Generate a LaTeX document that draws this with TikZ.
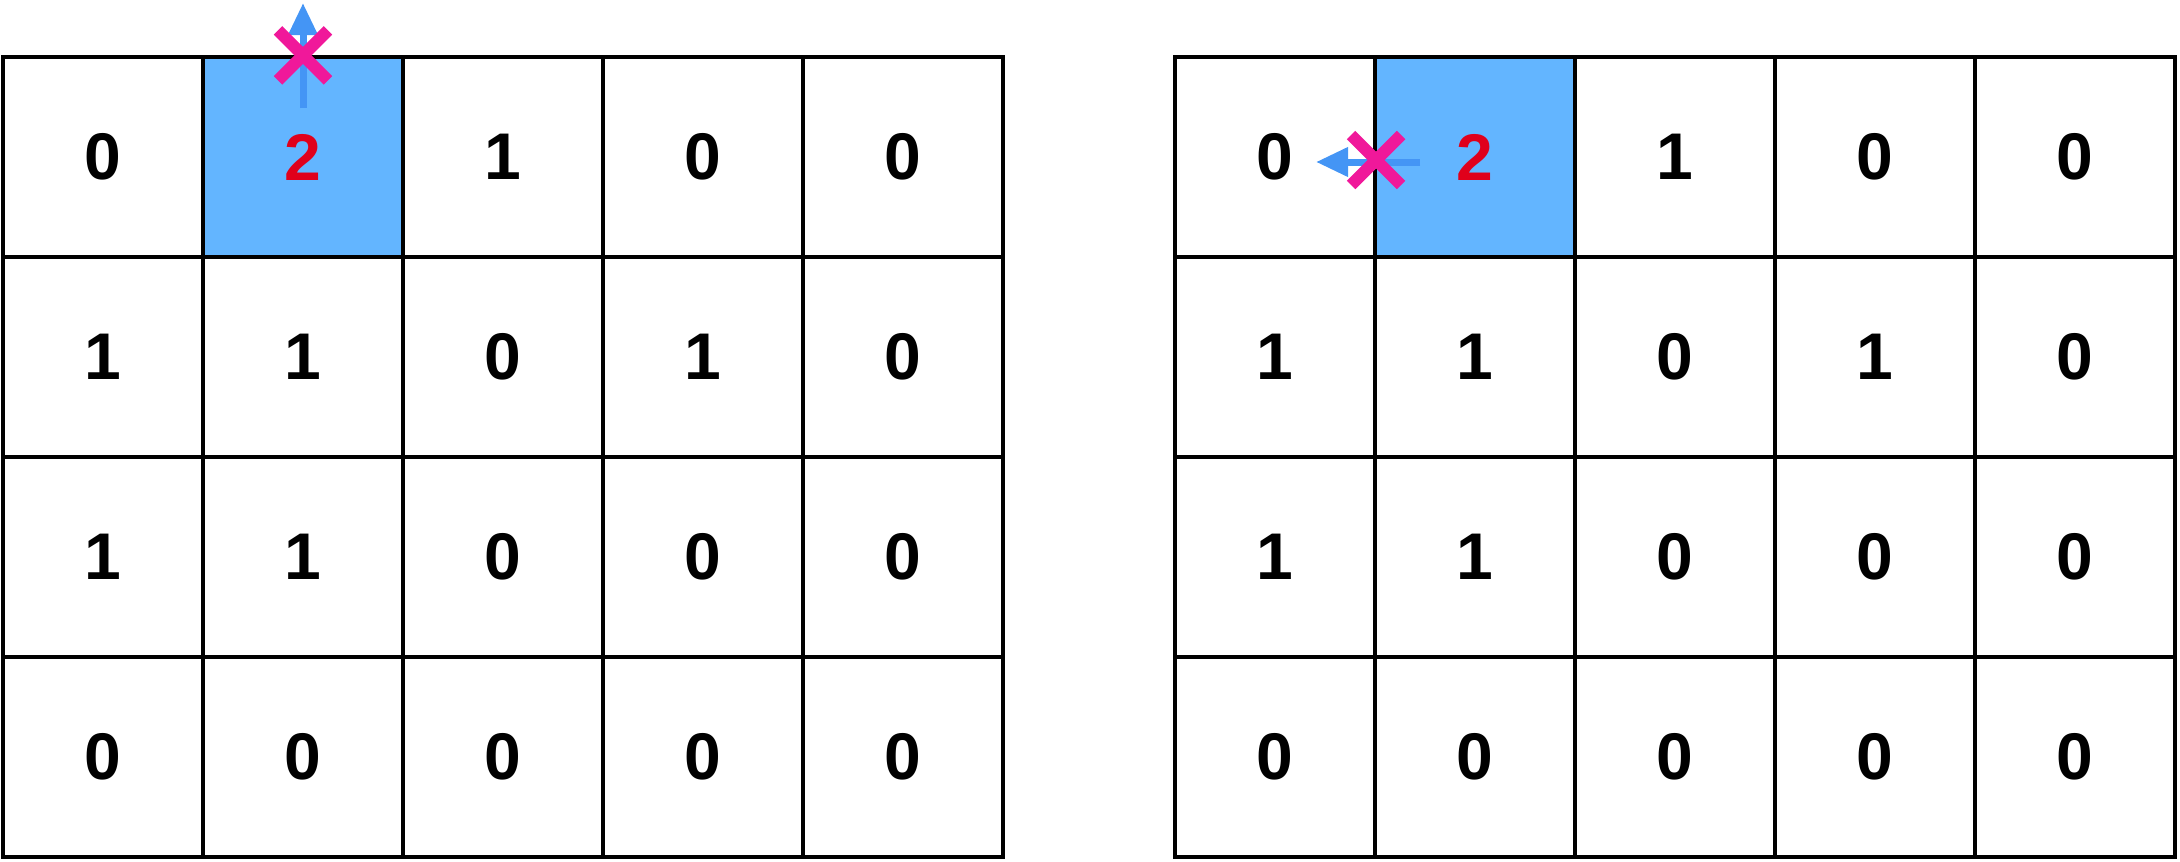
\documentclass[tikz,border=0pt]{standalone}
\usepackage{fontspec}
\setmainfont{Liberation Sans}
\usetikzlibrary{arrows.meta}
\definecolor{cellblue}{HTML}{63B5FF}
\definecolor{numred}{HTML}{E0001B}
\definecolor{arrblue}{HTML}{4495F5}
\definecolor{xpink}{HTML}{F0189A}
\tikzset{
  cell/.style={draw=black, line width=1.7pt, minimum width=100pt, minimum height=100pt,
    inner sep=0pt, font=\fontsize{33}{33}\selectfont\bfseries},
  hl/.style={fill=cellblue, text=numred},
  moveArrow/.style={draw=arrblue, line width=3.5pt, -{Triangle[length=16pt,width=14pt]}},
  crossMark/.style={draw=xpink, line width=6pt}
}
\begin{document}
\begin{tikzpicture}[x=0.5pt,y=-0.5pt]
\useasboundingbox (0,0) rectangle (2180,862);
\def\vals{{{0,2,1,0,0},{1,1,0,1,0},{1,1,0,0,0},{0,0,0,0,0}}}
% left grid
\foreach \r/\row in {0/{0,2,1,0,0},1/{1,1,0,1,0},2/{1,1,0,0,0},3/{0,0,0,0,0}}{
  \foreach \v [count=\c from 0] in \row {
    \ifnum\r=0 \ifnum\c=1
      \node[cell,hl] (L-\r-\c) at ({103+200*\c},{157+200*\r}) {\v};
    \else
      \node[cell] (L-\r-\c) at ({103+200*\c},{157+200*\r}) {\v};
    \fi\else
      \node[cell] (L-\r-\c) at ({103+200*\c},{157+200*\r}) {\v};
    \fi
    \ifnum\r=0 \ifnum\c=1
      \node[cell,hl] (R-\r-\c) at ({1275+200*\c},{157+200*\r}) {\v};
    \else
      \node[cell] (R-\r-\c) at ({1275+200*\c},{157+200*\r}) {\v};
    \fi\else
      \node[cell] (R-\r-\c) at ({1275+200*\c},{157+200*\r}) {\v};
    \fi
  }
}
% left: move up blocked
\coordinate (LaS) at (303,108);
\coordinate (LaE) at (303,3);
\draw[moveArrow] (LaS) -- (LaE);
\coordinate (LxC) at (L-0-1.north);
\draw[crossMark] ([shift={(-25,-25)}]LxC) -- ([shift={(25,25)}]LxC);
\draw[crossMark] ([shift={(-25,25)}]LxC) -- ([shift={(25,-25)}]LxC);
% right: move left blocked
\coordinate (RaS) at (1420,162);
\coordinate (RaE) at (1316,162);
\draw[moveArrow] (RaS) -- (RaE);
\coordinate (RxC) at (1376,160);
\draw[crossMark] ([shift={(-25,-25)}]RxC) -- ([shift={(25,25)}]RxC);
\draw[crossMark] ([shift={(-25,25)}]RxC) -- ([shift={(25,-25)}]RxC);
\end{tikzpicture}
\end{document}
